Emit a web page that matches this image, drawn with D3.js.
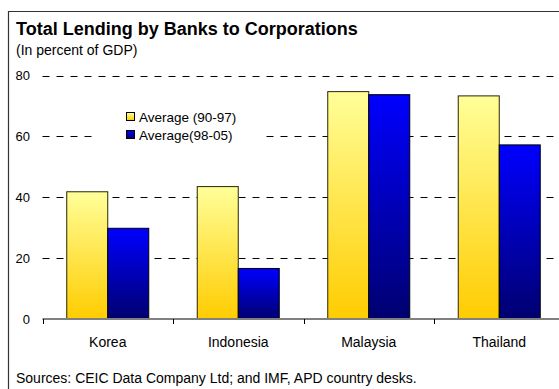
<!DOCTYPE html>
<html>
<head>
<meta charset="utf-8">
<script src="https://cdn.jsdelivr.net/npm/d3@7"></script>
<style>
  html, body { margin: 0; padding: 0; background: #fff; }
  svg { display: block; font-family: "Liberation Sans", Arial, sans-serif; }
</style>
</head>
<body>
<svg id="chart" width="559" height="389"></svg>
<script>
// Bank lending to corporations, percent of GDP
const countries = ["Korea", "Indonesia", "Malaysia", "Thailand"];
const seriesNames = ["Average (90-97)", "Average(98-05)"];
const avg9097 = [41.8, 43.5, 74.7, 73.3];
const avg9805 = [29.8, 16.6, 73.7, 57.2];
const yTicks = [0, 20, 40, 60, 80];

const svg = d3.select("#chart");
const W = 559, H = 389;

// Gradients for the two series
const defs = svg.append("defs");
function vGrad(id, top, bottom) {
  const g = defs.append("linearGradient").attr("id", id)
    .attr("x1", 0).attr("y1", 0).attr("x2", 0).attr("y2", 1);
  g.append("stop").attr("offset", "0%").attr("stop-color", top);
  g.append("stop").attr("offset", "100%").attr("stop-color", bottom);
}
vGrad("gYellow", "#ffff99", "#ffcc00");
vGrad("gBlue", "#0000ff", "#000070");
const fills = ["url(#gYellow)", "url(#gBlue)"];

// Frame
svg.append("line").attr("x1", 8.5).attr("x2", W).attr("y1", 11.5).attr("y2", 11.5)
  .attr("stroke", "#333").attr("stroke-width", 1.2);
svg.append("line").attr("x1", 8.5).attr("x2", 8.5).attr("y1", 11).attr("y2", H)
  .attr("stroke", "#333").attr("stroke-width", 1.2);

// Titles
svg.append("text").attr("x", 16).attr("y", 35)
  .attr("font-size", 18).attr("font-weight", "bold").attr("fill", "#000")
  .text("Total Lending by Banks to Corporations");
svg.append("text").attr("x", 16).attr("y", 55)
  .attr("font-size", 14).attr("fill", "#000")
  .text("(In percent of GDP)");

// Scales
const y = d3.scaleLinear().domain([0, 80]).range([319, 75.5]);
const x = d3.scaleBand().domain(countries).range([42.5, 564.5]).paddingInner(0.3716).paddingOuter(0.1858);
const xAxisScale = d3.scaleBand().domain(countries).range([42.5, 564.5]);
const xSub = d3.scaleBand().domain(seriesNames).range([0, x.bandwidth()]);

// Gridlines (dashed)
svg.append("g").selectAll("line").data(yTicks.filter(d => d > 0)).join("line")
  .attr("x1", 42.5).attr("x2", W)
  .attr("y1", d => Math.round(y(d)) + 0.5).attr("y2", d => Math.round(y(d)) + 0.5)
  .attr("stroke", "#000").attr("stroke-width", 1)
  .attr("stroke-dasharray", "7,7");

// Y tick labels
svg.append("g").selectAll("text").data(yTicks).join("text")
  .attr("x", 30).attr("y", d => y(d))
  .attr("dy", "0.36em").attr("text-anchor", "end")
  .attr("font-size", 13).attr("fill", "#000")
  .text(d => d);

// Legend (white box sits over the gridline)
const leg = svg.append("g");
leg.append("rect").attr("x", 97).attr("y", 103).attr("width", 164).attr("height", 52).attr("fill", "#fff");
seriesNames.forEach((name, i) => {
  const yy = 112.5 + i * 18;
  leg.append("rect").attr("x", 126.5).attr("y", yy).attr("width", 8).attr("height", 8)
    .attr("fill", fills[i]).attr("stroke", "#000").attr("stroke-width", 1);
  leg.append("text").attr("x", 139).attr("y", yy + 9)
    .attr("font-size", 13.5).attr("fill", "#000").text(name);
});

// Bars
const rows = countries.map((c, i) => ({ country: c, values: [avg9097[i], avg9805[i]] }));
const groups = svg.append("g").selectAll("g").data(rows).join("g")
  .attr("transform", d => `translate(${x(d.country)},0)`);
groups.selectAll("rect").data(d => d.values.map((v, k) => ({ v, k }))).join("rect")
  .attr("x", d => xSub(seriesNames[d.k]))
  .attr("y", d => y(d.v))
  .attr("width", xSub.bandwidth())
  .attr("height", d => y(0) - y(d.v))
  .attr("fill", d => fills[d.k])
  .attr("stroke", d => d.k === 0 ? "#2a2400" : "#000")
  .attr("stroke-width", 1);

// X axis line and category ticks
svg.append("line").attr("x1", 42.5).attr("x2", W).attr("y1", 319).attr("y2", 319)
  .attr("stroke", "#808080").attr("stroke-width", 2);
const tickPos = countries.map(c => xAxisScale(c)).concat([xAxisScale.range()[1]]);
svg.append("g").selectAll("line").data(tickPos).join("line")
  .attr("x1", d => Math.round(d) + 0.5).attr("x2", d => Math.round(d) + 0.5)
  .attr("y1", 319).attr("y2", 324)
  .attr("stroke", "#000").attr("stroke-width", 1);

// Category labels
svg.append("g").selectAll("text").data(countries).join("text")
  .attr("x", d => xAxisScale(d) + xAxisScale.bandwidth() / 2)
  .attr("y", 347).attr("text-anchor", "middle")
  .attr("font-size", 14).attr("fill", "#000")
  .text(d => d);

// Source note
svg.append("text").attr("x", 16).attr("y", 383)
  .attr("font-size", 14).attr("fill", "#000")
  .text("Sources: CEIC Data Company Ltd; and IMF, APD country desks.");
</script>
</body>
</html>
